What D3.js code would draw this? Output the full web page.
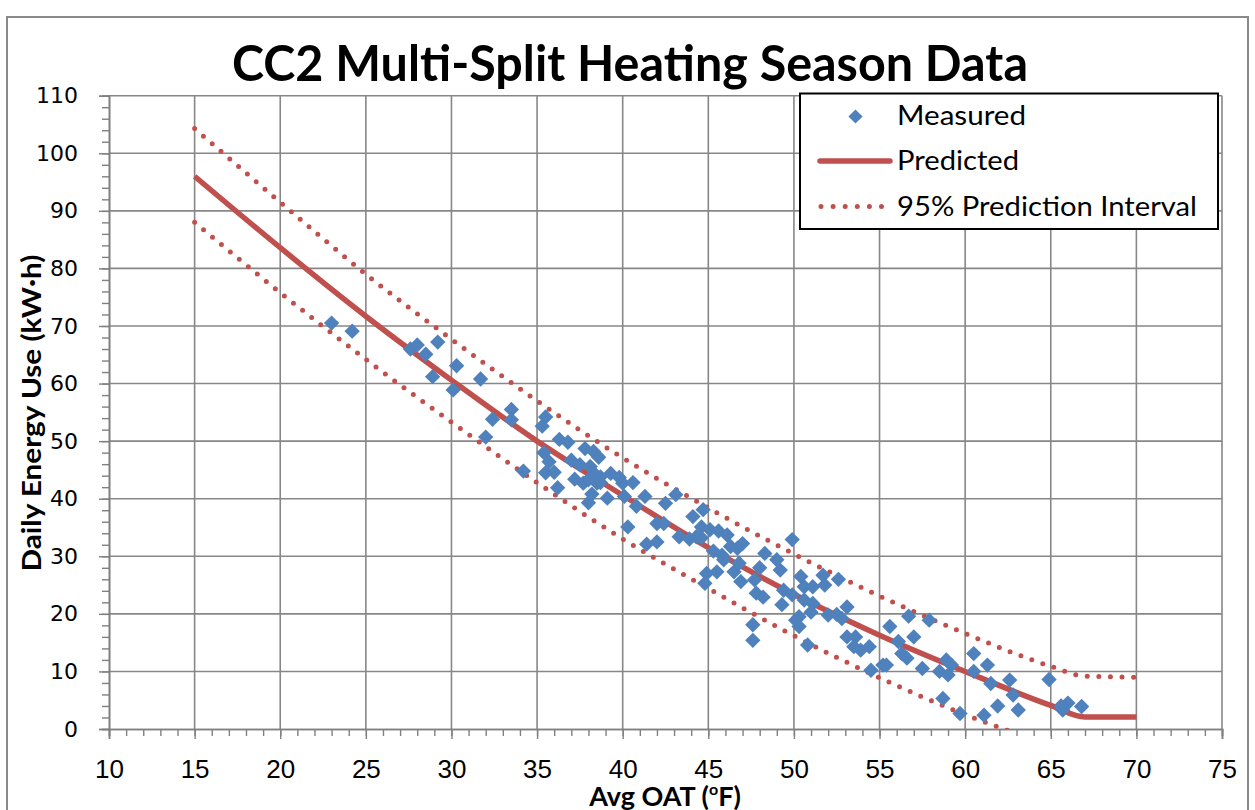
<!DOCTYPE html>
<html>
<head>
<meta charset="utf-8">
<script src="https://cdn.jsdelivr.net/npm/d3@7"></script>
<style>
  body { margin: 0; background: #fff; }
</style>
</head>
<body>
<div id="chart"></div>
<script>
// measured daily points (avg outdoor air temp, kWh)
const measuredOat = [
  23.0, 24.2, 27.6, 28.0, 28.5, 29.2, 28.9, 30.3, 30.1, 31.7, 32.0, 32.4, 33.5, 33.5, 34.2,
  35.5, 35.3, 36.3, 36.8, 35.4, 35.7, 35.5, 36.0, 36.2, 37.0, 37.5, 37.8, 38.3, 38.6, 38.1,
  38.4, 37.2, 37.7, 38.7, 38.5, 38.2, 38.0, 39.1, 39.3, 39.8, 40.0, 40.6, 40.1, 40.8, 41.3,
  40.3, 38.0, 38.7,
  42.5, 43.1, 42.0, 42.4, 41.4, 42.0, 43.3, 43.9, 44.1, 44.7, 44.3, 44.6, 45.1, 45.6, 46.1,
  44.6, 45.3, 45.8, 46.3, 46.7, 47.0, 45.9, 46.8, 44.9, 45.5, 44.8, 46.5, 46.9,
  47.7, 48.0, 48.3, 49.0, 49.2, 49.9, 47.8, 48.2, 49.3, 49.4, 49.9, 50.4, 50.6, 51.1, 51.7,
  51.8, 52.6, 51.1, 51.0, 50.3, 52.0, 52.5, 53.1, 52.8, 47.6, 47.6, 50.1, 50.3, 50.8, 50.6,
  53.1, 53.6, 53.9, 54.4, 53.5, 55.6, 56.7, 57.9, 57.0, 56.1, 56.3, 56.6, 54.5, 55.2, 55.4,
  57.5, 58.9, 59.2, 58.5, 59.0, 58.7, 59.7,
  60.5, 61.3, 60.5, 61.5, 62.6, 62.8, 61.1, 61.9, 63.1, 64.9, 65.7, 66.0, 66.8, 65.6
];
const measuredKwh = [
  70.5, 69.1, 66.0, 66.7, 65.1, 67.2, 61.2, 63.1, 58.9, 60.8, 50.7, 53.8, 55.5, 53.7, 44.8,
  54.2, 52.6, 50.3, 49.8, 48.0, 46.4, 44.5, 44.6, 41.9, 46.7, 45.9, 48.7, 48.2, 47.2, 45.6,
  44.2, 43.4, 42.7, 43.8, 42.7, 40.8, 39.3, 40.1, 44.4, 43.7, 42.7, 42.8, 40.4, 38.7, 40.4,
  35.1, 43.3, 42.8,
  39.2, 40.7, 35.7, 35.7, 32.1, 32.5, 33.4, 33.0, 36.9, 38.1, 33.4, 35.1, 34.6, 34.4, 33.7,
  33.2, 30.9, 30.2, 31.7, 31.4, 32.2, 29.4, 28.8, 27.0, 27.3, 25.3, 27.3, 25.6,
  25.9, 28.0, 30.5, 29.4, 27.6, 32.9, 23.6, 22.9, 21.6, 24.1, 23.3, 26.5, 24.7, 24.7, 26.7,
  25.0, 26.0, 21.8, 20.3, 19.5, 19.8, 19.9, 21.2, 19.2, 18.1, 15.4, 18.9, 17.8, 14.6, 22.4,
  16.0, 16.0, 13.7, 14.3, 14.3, 17.8, 19.6, 18.9, 16.0, 15.2, 13.1, 12.3, 10.2, 11.1, 11.1,
  10.5, 12.0, 11.1, 10.0, 9.4, 5.3, 2.7,
  13.1, 11.1, 10.0, 7.9, 8.5, 5.9, 2.4, 4.0, 3.3, 8.6, 3.3, 4.5, 3.9, 4.0
];

// model curve and 95% prediction band, read at these temperatures
const curveOat     = [15, 20, 25, 30, 35, 40, 45, 50, 55, 60, 65, 67, 70];
const predictedKwh = [96.0, 83.6, 71.7, 60.6, 50.0, 40.6, 31.5, 23.4, 16.3, 10.0, 4.1, 2.1, 2.1];
const upperKwh     = [104.3, 91.5, 79.0, 67.7, 57.0, 47.1, 38.4, 30.4, 23.1, 16.6, 10.9, 9.2, 9.0];
const lowerKwh     = [88.0, 75.8, 64.2, 53.3, 42.8, 33.0, 24.4, 16.2, 8.9, 2.5, -2.8, null, null];

const xTicks = [10, 15, 20, 25, 30, 35, 40, 45, 50, 55, 60, 65, 70, 75];
const yTicks = [0, 10, 20, 30, 40, 50, 60, 70, 80, 90, 100, 110];
const legendLabels = ['Measured', 'Predicted', '95% Prediction Interval'];

const width = 1255;
const height = 810;
const margin = { top: 95.7, right: 33, bottom: 81, left: 109 };

const blue = '#4F81BD';
const red = '#C0504D';
const gridColor = '#878787';
const calibriLike = 'Lato, "Open Sans", sans-serif';

const svg = d3.select('#chart')
  .append('svg')
  .attr('width', width)
  .attr('height', height)
  .style('font-family', calibriLike);

const x = d3.scaleLinear()
  .domain([10, 75])
  .range([margin.left, width - margin.right]);

const y = d3.scaleLinear()
  .domain([0, 110])
  .range([height - margin.bottom, margin.top]);

// outer chart frame
svg.append('rect')
  .attr('x', 7).attr('y', 17)
  .attr('width', 1241).attr('height', 820)
  .attr('fill', 'none')
  .attr('stroke', '#8a8a8a')
  .attr('stroke-width', 2);

// grid
svg.append('g')
  .selectAll('line')
  .data(yTicks.filter(d => d > 0))
  .join('line')
  .attr('x1', x(10)).attr('x2', x(75))
  .attr('y1', d => y(d)).attr('y2', d => y(d))
  .attr('stroke', gridColor).attr('stroke-width', 1.6);

svg.append('g')
  .selectAll('line')
  .data(xTicks.filter(d => d > 10))
  .join('line')
  .attr('x1', d => x(d)).attr('x2', d => x(d))
  .attr('y1', y(0)).attr('y2', y(110))
  .attr('stroke', gridColor).attr('stroke-width', 1.6);

// axes
function styleAxis(g) {
  g.select('.domain').attr('stroke', '#808080').attr('stroke-width', 1.6);
  g.selectAll('.tick line').attr('stroke', '#808080').attr('stroke-width', 1.4);
}

svg.append('g')
  .attr('transform', `translate(${x(10)},0)`)
  .call(d3.axisLeft(y).tickValues(d3.range(0, 111, 2)).tickSize(7).tickFormat(''))
  .call(styleAxis);

svg.append('g')
  .attr('transform', `translate(0,${y(0)})`)
  .call(d3.axisBottom(x).tickValues(d3.range(10, 76, 1)).tickSize(7).tickFormat(''))
  .call(styleAxis);

svg.append('g')
  .attr('transform', `translate(${x(10)},0)`)
  .call(d3.axisLeft(y).tickValues(yTicks).tickSize(10).tickPadding(21))
  .call(styleAxis)
  .call(g => g.selectAll('text')
    .attr('fill', '#000')
    .style('font-family', '"DejaVu Sans", Verdana, sans-serif')
    .style('font-size', '22px'));

svg.append('g')
  .attr('transform', `translate(0,${y(0)})`)
  .call(d3.axisBottom(x).tickValues(xTicks).tickSize(10).tickPadding(21))
  .call(styleAxis)
  .call(g => g.selectAll('text')
    .attr('fill', '#000')
    .style('font-size', '26px'));

// lines
svg.append('clipPath')
  .attr('id', 'plot-clip')
  .append('rect')
  .attr('x', x(10)).attr('y', y(110))
  .attr('width', x(75) - x(10)).attr('height', y(0) - y(110));

const curveRows = curveOat.map((t, i) => ({
  t, pred: predictedKwh[i], up: upperKwh[i], lo: lowerKwh[i]
}));

const plot = svg.append('g').attr('clip-path', 'url(#plot-clip)');

const bandLine = key => d3.line()
  .defined(d => d[key] !== null)
  .x(d => x(d.t))
  .y(d => y(d[key]))
  .curve(d3.curveMonotoneX);

['up', 'lo'].forEach(key => {
  plot.append('path')
    .datum(curveRows)
    .attr('d', bandLine(key))
    .attr('fill', 'none')
    .attr('stroke', red)
    .attr('stroke-width', 5)
    .attr('stroke-linecap', 'round')
    .attr('stroke-dasharray', '0 11.6');
});

plot.append('path')
  .datum(curveRows)
  .attr('d', bandLine('pred'))
  .attr('fill', 'none')
  .attr('stroke', red)
  .attr('stroke-width', 5.5);

// measured points
const diamond = d3.symbol(d3.symbolSquare, 118);

svg.append('g')
  .selectAll('path')
  .data(measuredOat.map((t, i) => ({ t, v: measuredKwh[i] })))
  .join('path')
  .attr('d', diamond)
  .attr('transform', d => `translate(${x(d.t)},${y(d.v)}) rotate(45)`)
  .attr('fill', blue);

// legend
const legend = svg.append('g');
legend.append('rect')
  .attr('x', 800).attr('y', 93.5)
  .attr('width', 418).attr('height', 135.5)
  .attr('fill', '#fff')
  .attr('stroke', '#000')
  .attr('stroke-width', 2);

legend.append('path')
  .attr('d', d3.symbol(d3.symbolSquare, 100))
  .attr('transform', 'translate(855.5,116.5) rotate(45)')
  .attr('fill', blue);

legend.append('line')
  .attr('x1', 820).attr('x2', 890).attr('y1', 161).attr('y2', 161)
  .attr('stroke', red).attr('stroke-width', 5.5).attr('stroke-linecap', 'round');

legend.append('line')
  .attr('x1', 821).attr('x2', 884).attr('y1', 206.5).attr('y2', 206.5)
  .attr('stroke', red).attr('stroke-width', 5)
  .attr('stroke-linecap', 'round').attr('stroke-dasharray', '0 12.1');

const legendWidths = [129, 122, 300];
legend.selectAll('text')
  .data(legendLabels)
  .join('text')
  .attr('x', 897)
  .attr('y', (d, i) => 124.5 + i * 45.5)
  .attr('textLength', (d, i) => legendWidths[i])
  .attr('lengthAdjust', 'spacingAndGlyphs')
  .style('font-size', '27px')
  .text(d => d);

// titles
svg.append('text')
  .attr('x', 232).attr('y', 81)
  .attr('textLength', 796)
  .attr('lengthAdjust', 'spacingAndGlyphs')
  .style('font-size', '50px')
  .style('font-weight', 'bold')
  .text('CC2 Multi-Split Heating Season Data');

svg.append('text')
  .attr('transform', 'translate(41,571.5) rotate(-90)')
  .attr('textLength', 317)
  .attr('lengthAdjust', 'spacingAndGlyphs')
  .style('font-size', '26px')
  .style('font-weight', 'bold')
  .text('Daily Energy Use (kW·h)');

const xLabel = svg.append('text')
  .attr('x', 665).attr('y', 806)
  .attr('text-anchor', 'middle')
  .style('font-size', '27px')
  .style('font-weight', 'bold');
xLabel.append('tspan').text('Avg OAT (');
xLabel.append('tspan').attr('dy', -11).style('font-size', '16px').text('o');
xLabel.append('tspan').attr('dy', 11).text('F)');
</script>
</body>
</html>
